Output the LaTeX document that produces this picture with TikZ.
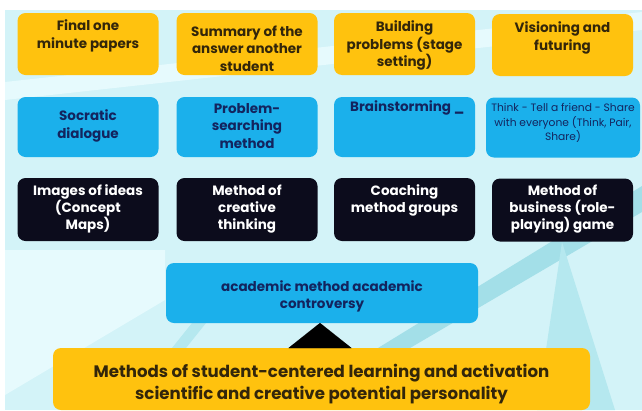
\documentclass[tikz,border=0pt]{standalone}
\usepackage{fontspec}
\setmainfont{Poppins}
\usetikzlibrary{arrows.meta}
\definecolor{gold}{HTML}{FFC20E}
\definecolor{sky}{HTML}{1BB0EB}
\definecolor{ink}{HTML}{0C0C1C}
\definecolor{bg}{HTML}{D3F3F8}
\definecolor{bglight}{HTML}{E6FAFD}
\definecolor{tealA}{HTML}{A3DFE8}
\definecolor{tealB}{HTML}{B5E8EF}
\definecolor{brownink}{HTML}{33260A}
\definecolor{navy}{HTML}{13245E}
\begin{document}
\begin{tikzpicture}[x=1pt,y=-1pt,
  boxbase/.style={rounded corners=8pt, inner sep=0pt, draw=none},
  ybox/.style={boxbase, fill=gold, minimum width=141pt, minimum height=62pt},
  bbox/.style={boxbase, fill=sky, minimum width=141pt, minimum height=60pt},
  kbox/.style={boxbase, fill=ink, minimum width=141pt, minimum height=63pt},
  ytxt/.style={text=brownink, font=\bfseries\fontsize{13.5}{17.5}\selectfont, align=center, inner sep=0pt},
  btxt/.style={text=navy, font=\bfseries\fontsize{13.5}{17.5}\selectfont, align=center, inner sep=0pt},
  bsmall/.style={text=navy, font=\fontsize{10.7}{14.5}\selectfont, align=center, inner sep=0pt},
  ktxt/.style={text=white, font=\bfseries\fontsize{13.5}{17}\selectfont, align=center, inner sep=0pt},
  bigtxt/.style={text=brownink, font=\bfseries\fontsize{16.6}{22}\selectfont, align=center, inner sep=0pt},
  uparrow/.style={draw=black, line width=0.01pt, -{Triangle[width=63pt,length=25pt]}}
]
\useasboundingbox (0,0) rectangle (642,410);
% background
\fill[white] (0,0) rectangle (642,410);
\fill[bg] (5,10) rectangle (642,410);
\fill[bglight] (5,82) -- (5,100) -- (642,30) -- (642,12) -- cycle;
\fill[bglight] (5,250) -- (165,250) -- (165,300) -- (5,395) -- cycle;
\fill[tealA] (642,186) -- (642,212) -- (410,348) -- (378,348) -- cycle;
\fill[tealB] (562,242) -- (615,410) -- (537,410) -- cycle;
\fill[tealB] (192,323) -- (206,323) -- (186,348) -- (172,348) -- cycle;

% row 1
\node[ybox] (y1) at (88,44) {};
\node[ybox] (y2) at (247,44) {};
\node[ybox] (y3) at (404.5,44) {};
\node[ybox] (y4) at (562.5,45) {};
\node[ytxt] (y1t) at (88,36) {Final one\\minute papers};
\node[ytxt] (y2t) at (247,48.5) {Summary of the\\answer another\\student};
\node[ytxt] (y3t) at (404.5,45.5) {Building\\problems (stage\\setting)};
\node[ytxt] (y4t) at (562.5,38) {Visioning and\\futuring};

% row 2
\node[bbox] (b1) at (88,127) {};
\node[bbox] (b2) at (247,127) {};
\node[bbox] (b3) at (404.5,127) {};
\node[bbox, minimum width=154pt] (b4) at (563,127.5) {};
\node[btxt] (b1t) at (88,126) {Socratic\\dialogue};
\node[btxt] (b2t) at (247,126) {Problem-\\searching\\method};
\node[btxt, anchor=west] (b3t) at (350,108) {Brainstorming \_};
\node[bsmall] (b4t) at (563,123) {Think - Tell a friend - Share\\with everyone (Think, Pair,\\Share)};

% row 3
\node[kbox] (k1) at (88,209.5) {};
\node[kbox] (k2) at (247,209.5) {};
\node[kbox] (k3) at (404.5,209.5) {};
\node[kbox] (k4) at (562.5,210) {};
\node[ktxt] (k1t) at (88,208.5) {Images of ideas\\(Concept\\Maps)};
\node[ktxt] (k2t) at (247,209) {Method of\\creative\\thinking};
\node[ktxt] (k3t) at (404.5,200) {Coaching\\method groups};
\node[ktxt] (k4t) at (562.5,209.5) {Method of\\business (role-\\playing) game};

% academic box
\node[boxbase, fill=sky, minimum width=312pt, minimum height=60pt] (acad) at (322,293) {};
\node[btxt] (acadt) at (322,296.5) {academic method academic\\controversy};

% bottom box
\node[boxbase, fill=gold, minimum width=537pt, minimum height=62pt] (bot) at (321.5,379) {};
\node[bigtxt] (bott) at (321.5,384) {Methods of student-centered learning and activation\\scientific and creative potential personality};

% arrow
\coordinate (arrfoot) at (320,348);
\coordinate (arrtip) at (320,323);
\draw[uparrow] (arrfoot) -- (arrtip);
\end{tikzpicture}
\end{document}
